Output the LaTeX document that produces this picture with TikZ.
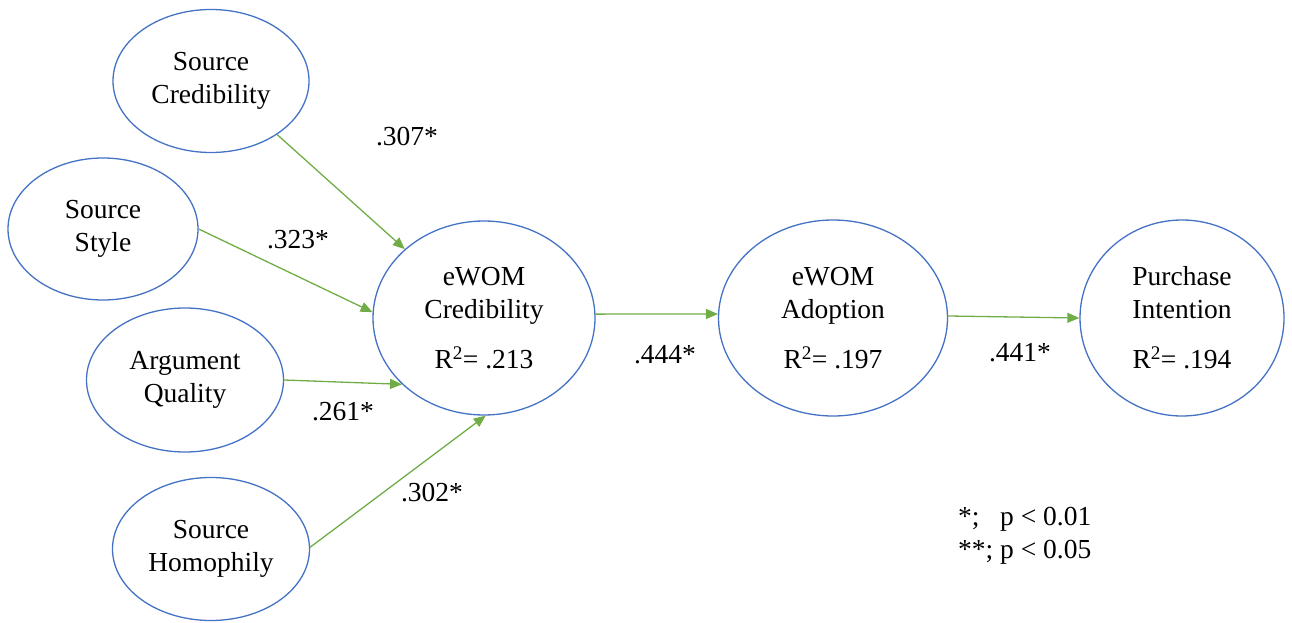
\documentclass[tikz,border=0pt]{standalone}
\usepackage{fontspec}
\setmainfont{Liberation Serif}
\usetikzlibrary{shapes.geometric,arrows.meta}
\definecolor{ovalblue}{RGB}{68,114,196}
\definecolor{pathgreen}{RGB}{112,173,71}
\tikzset{
  construct/.style={ellipse, draw=ovalblue, line width=1.3pt, inner sep=0pt, align=center},
  path/.style={draw=pathgreen, line width=1.3pt, -{Triangle[length=12pt,width=10pt]}},
  coef/.style={inner sep=0pt}
}
\begin{document}
\begin{tikzpicture}[x=1pt,y=-1pt,font=\fontsize{27.5}{33}\selectfont]
    \useasboundingbox (0,0) rectangle (1292,623);

    % Predictors
    \node[construct, minimum width=196pt, minimum height=143pt] (sc) at (211,81) {Source\\Credibility};
    \node[construct, minimum width=190pt, minimum height=142pt] (ss) at (103,229) {Source\\Style};
    \node[construct, minimum width=197pt, minimum height=144pt] (aq) at (185,380) {Argument\\Quality};
    \node[construct, minimum width=197pt, minimum height=143pt] (sh) at (211,549) {Source\\Homophily};

    % Outcomes
    \node[construct, minimum width=222pt, minimum height=194pt] (ec) at (484,318) {eWOM\\Credibility\\[17pt]R\textsuperscript{2}= .213};
    \node[construct, minimum width=229pt, minimum height=196pt] (ea) at (833,318) {eWOM\\Adoption\\[17pt]R\textsuperscript{2}= .197};
    \node[construct, minimum width=204pt, minimum height=196pt] (pi) at (1182,318) {Purchase\\Intention\\[17pt]R\textsuperscript{2}= .194};

    % Paths
    \foreach \src/\a/\b in {sc/-39/139, ss/0/177, aq/0/-141, sh/1/-89} {
        \draw[path] (\src.\a) -- (ec.\b);
    }
    \draw[path] (ec.2) -- (ea.178);
    \draw[path] (ea.1.5) -- (pi.180);

    % Coefficients
    \node[coef] (c1) at (407,137) {.307*};
    \node[coef] (c2) at (298,240) {.323*};
    \node[coef] (c3) at (343,412) {.261*};
    \node[coef] (c4) at (432,493) {.302*};
    \node[coef] (c5) at (665,355) {.444*};
    \node[coef] (c6) at (1020,353) {.441*};

    % Legend
    \node[coef, anchor=west, align=left] (key) at (958,536) {*;\hspace{0.75em}p < 0.01\\**; p < 0.05};
\end{tikzpicture}
\end{document}
